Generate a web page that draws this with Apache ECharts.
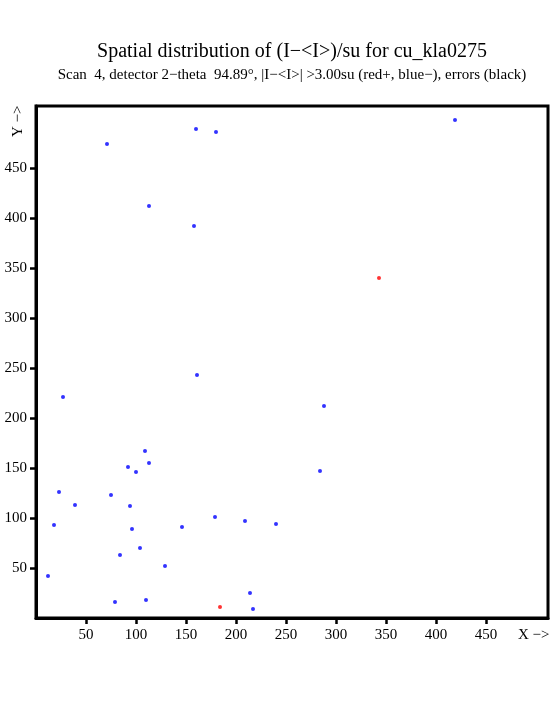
<!DOCTYPE html>
<html><head><meta charset="utf-8">
<script src="https://cdn.jsdelivr.net/npm/echarts@6/dist/echarts.min.js"></script>
<style>html,body{margin:0;padding:0;background:#fff}#c{width:555px;height:725px}</style>
</head><body><div id="c"></div>
<script>
const titleText = 'Spatial distribution of (I\u2212<I>)/su for cu_kla0275';
const subtitleText = 'Scan  4, detector 2\u2212theta  94.89\u00b0, |I\u2212<I>| >3.00su (red+, blue\u2212), errors (black)';
const xTicks = [50, 100, 150, 200, 250, 300, 350, 400, 450];
const yTicks = [50, 100, 150, 200, 250, 300, 350, 400, 450];
const blueX = [71, 160, 180, 419, 113, 158, 161, 288, 27, 109, 113, 92, 100, 23, 75, 39, 94, 18, 96, 146, 179, 209, 240, 104, 84, 12, 129, 79, 110, 214, 217, 284];
const blueY = [474, 489, 486, 498, 412, 392, 243, 212, 221, 167, 155, 151, 146, 126, 123, 113, 112, 93, 89, 91, 101, 97, 94, 70, 63, 42, 52, 16, 18, 25, 9, 147];
const redX = [343, 184];
const redY = [340, 11];

const font = '"Liberation Serif", "DejaVu Serif", serif';
const chart = echarts.init(document.getElementById('c'), null, {renderer: 'canvas'});
function makeAxis(ticks, margin) {
  return {
    type: 'value', min: 0, max: 512, interval: 50,
    splitLine: {show: false},
    axisLine: {show: true, onZero: false, lineStyle: {color: '#000', width: 3}},
    axisTick: {show: true, inside: false, length: 6, lineStyle: {color: '#000', width: 2.5}, customValues: ticks},
    axisLabel: {color: '#000', fontFamily: font, fontSize: 15, margin: margin, customValues: ticks}
  };
}
chart.setOption({
  animation: false,
  backgroundColor: '#fff',
  title: [
    {text: titleText, left: 287, top: 37, textAlign: 'center',
     textStyle: {fontFamily: font, fontSize: 20, fontWeight: 'normal', color: '#000'}},
    {text: subtitleText, left: 287, top: 63, textAlign: 'center',
     textStyle: {fontFamily: font, fontSize: 15, fontWeight: 'normal', color: '#000'}}
  ],
  grid: {left: 36, right: 7, top: 106, bottom: 107, show: true, borderColor: '#000', borderWidth: 3, backgroundColor: 'transparent'},
  xAxis: makeAxis(xTicks, 10),
  yAxis: makeAxis(yTicks, 9),
  graphic: [
    {type: 'text', left: 518, top: 628, style: {text: 'X \u2212>', font: '15px ' + font, fill: '#000'}},
    {type: 'text', x: 11, y: 137, rotation: Math.PI / 2, style: {text: 'Y \u2212>', font: '15px ' + font, fill: '#000', textAlign: 'left', textVerticalAlign: 'top'}}
  ],
  series: [
    {type: 'scatter', symbol: 'circle', symbolSize: 4, itemStyle: {color: '#0000ff'},
     data: blueX.map((x, i) => [x, blueY[i]])},
    {type: 'scatter', symbol: 'circle', symbolSize: 4, itemStyle: {color: '#ff0000'},
     data: redX.map((x, i) => [x, redY[i]])}
  ]
});
</script></body></html>
